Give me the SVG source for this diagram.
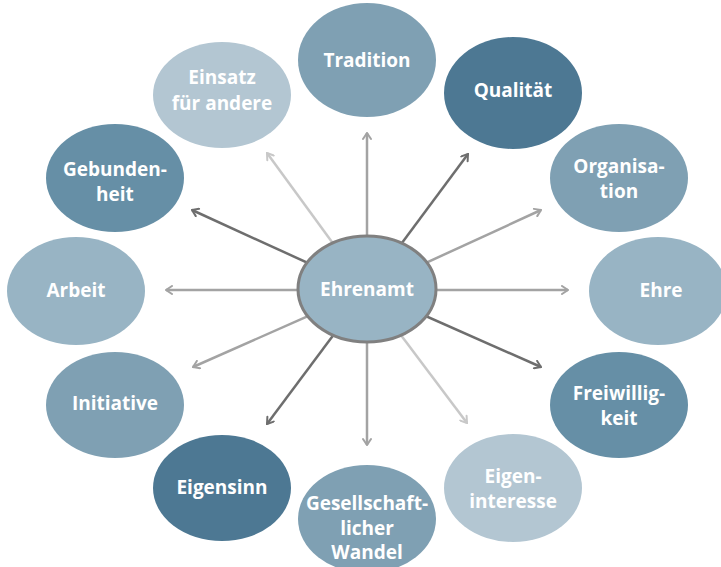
<svg xmlns="http://www.w3.org/2000/svg" width="721" height="567" viewBox="0 0 721 567">
<defs>
<style>
.lbl{font-family:"Open Sans","Noto Sans","Liberation Sans",sans-serif;font-weight:bold;font-size:19px;fill:#ffffff;text-anchor:middle}
.c1{fill:#4d7893}.c2{fill:#668fa6}.c3{fill:#7fa0b3}.c4{fill:#98b4c4}.c5{fill:#b3c6d2}
.dk{stroke:#6e6e6e;stroke-width:2.5;fill:none}
.md{stroke:#a3a3a3;stroke-width:2.5;fill:none}
.lt{stroke:#c8c8c8;stroke-width:2.5;fill:none}
</style>
<marker id="aDk" viewBox="0 0 10 10" refX="9" refY="5" markerWidth="10" markerHeight="10" markerUnits="userSpaceOnUse" orient="auto"><path d="M3,1 L9,5 L3,9" fill="none" stroke="#6e6e6e" stroke-width="2" stroke-linecap="round"/></marker>
<marker id="aMd" viewBox="0 0 10 10" refX="9" refY="5" markerWidth="10" markerHeight="10" markerUnits="userSpaceOnUse" orient="auto"><path d="M3,1 L9,5 L3,9" fill="none" stroke="#a3a3a3" stroke-width="2" stroke-linecap="round"/></marker>
<marker id="aLt" viewBox="0 0 10 10" refX="9" refY="5" markerWidth="10" markerHeight="10" markerUnits="userSpaceOnUse" orient="auto"><path d="M3,1 L9,5 L3,9" fill="none" stroke="#c8c8c8" stroke-width="2" stroke-linecap="round"/></marker>
</defs>
<rect width="721" height="567" fill="#ffffff"/>
<g id="connectors">
<path class="md" d="M367,290 L367,133" marker-end="url(#aMd)"/>
<path class="dk" d="M367,290 L468,154" marker-end="url(#aDk)"/>
<path class="md" d="M367,290 L541,210" marker-end="url(#aMd)"/>
<path class="md" d="M367,290 L568,290" marker-end="url(#aMd)"/>
<path class="dk" d="M367,290 L541,367" marker-end="url(#aDk)"/>
<path class="lt" d="M367,290 L467,423" marker-end="url(#aLt)"/>
<path class="md" d="M367,290 L367,445" marker-end="url(#aMd)"/>
<path class="dk" d="M367,290 L267,424" marker-end="url(#aDk)"/>
<path class="md" d="M367,290 L193,367" marker-end="url(#aMd)"/>
<path class="md" d="M367,290 L166,290" marker-end="url(#aMd)"/>
<path class="dk" d="M367,290 L192,210" marker-end="url(#aDk)"/>
<path class="lt" d="M367,290 L267,153" marker-end="url(#aLt)"/>
</g>
<g id="n-tradition"><ellipse class="c3" cx="367" cy="60" rx="69" ry="57"/><text class="lbl" x="367" y="67">Tradition</text></g>
<g id="n-qualitaet"><ellipse class="c1" cx="513" cy="93" rx="69" ry="56"/><text class="lbl" x="513" y="97">Qualität</text></g>
<g id="n-organisation"><ellipse class="c3" cx="619" cy="178" rx="69" ry="54"/><text class="lbl" x="619" y="173">Organisa-</text><text class="lbl" x="619" y="198">tion</text></g>
<g id="n-ehre"><ellipse class="c4" cx="658" cy="291" rx="69" ry="54"/><text class="lbl" x="661" y="297">Ehre</text></g>
<g id="n-freiwilligkeit"><ellipse class="c2" cx="619" cy="405" rx="69" ry="53"/><text class="lbl" x="619" y="400">Freiwillig-</text><text class="lbl" x="619" y="425">keit</text></g>
<g id="n-eigeninteresse"><ellipse class="c5" cx="513" cy="488" rx="69" ry="54"/><text class="lbl" x="513" y="483">Eigen-</text><text class="lbl" x="513" y="508">interesse</text></g>
<g id="n-wandel"><ellipse class="c3" cx="367" cy="519" rx="69" ry="54"/><text class="lbl" x="367" y="510">Gesellschaft-</text><text class="lbl" x="367" y="535">licher</text><text class="lbl" x="367" y="559">Wandel</text></g>
<g id="n-eigensinn"><ellipse class="c1" cx="222" cy="488" rx="69" ry="53"/><text class="lbl" x="222" y="494">Eigensinn</text></g>
<g id="n-initiative"><ellipse class="c3" cx="115" cy="405" rx="69" ry="53"/><text class="lbl" x="115" y="410">Initiative</text></g>
<g id="n-arbeit"><ellipse class="c4" cx="76" cy="291" rx="69" ry="54"/><text class="lbl" x="76" y="297">Arbeit</text></g>
<g id="n-gebundenheit"><ellipse class="c2" cx="115" cy="178" rx="69" ry="54"/><text class="lbl" x="115" y="176">Gebunden-</text><text class="lbl" x="115" y="201">heit</text></g>
<g id="n-einsatz"><ellipse class="c5" cx="222" cy="95" rx="69" ry="53"/><text class="lbl" x="222" y="84">Einsatz</text><text class="lbl" x="222" y="110">für andere</text></g>
<g id="n-ehrenamt"><ellipse class="c4" cx="367" cy="289" rx="69" ry="53" stroke="#808080" stroke-width="3"/><text class="lbl" x="367" y="296">Ehrenamt</text></g>
</svg>
